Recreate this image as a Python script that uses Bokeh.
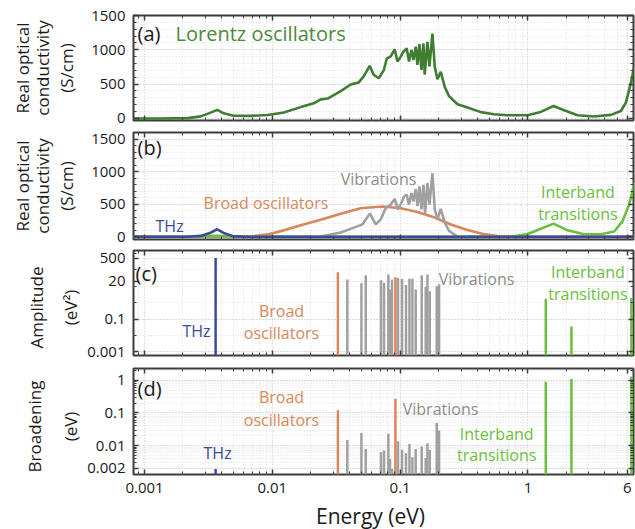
import math
from bokeh.plotting import figure
from bokeh.layouts import column, row
from bokeh.models import Range1d, FixedTicker, LinearAxis, LogAxis, Label, CustomJSTickFormatter
from bokeh.embed import file_html
from bokeh.resources import INLINE

# ---------------- data ----------------
# (a) total real optical conductivity (S/cm) vs energy (eV)
energy_total = [0.00082, 0.00133, 0.00217, 0.00275, 0.00329, 0.00371, 0.00416, 0.00498, 0.00676, 0.00919,
                0.0123, 0.0167, 0.0211, 0.0239, 0.0271, 0.0343, 0.0410, 0.0474, 0.0519, 0.0578,
                0.0621, 0.0680, 0.0744, 0.0786, 0.0844, 0.0907, 0.0953, 0.1011, 0.1061, 0.1126,
                0.1174, 0.1226, 0.1271, 0.1325, 0.1366, 0.1416, 0.1468, 0.1522, 0.1558, 0.1636,
                0.1696, 0.1790, 0.1866, 0.1959, 0.2080, 0.2234, 0.2415, 0.2810, 0.3365, 0.4279,
                0.5408, 0.6922, 0.9929, 1.262, 1.587, 1.920, 2.445, 3.299, 4.460, 5.341,
                5.844, 6.394, 6.785]
sigma_total = [0, 0, 5, 30, 85, 125, 75, 40, 37, 50,
               86, 165, 220, 278, 290, 397, 494, 525, 613, 767,
               637, 585, 700, 870, 905, 1007, 829, 901, 973, 1022,
               829, 997, 853, 1045, 781, 1083, 709, 1093, 637, 1117,
               760, 1237, 757, 570, 680, 460, 325, 206, 160, 92,
               60, 47, 47, 95, 181, 119, 47, 29, 52, 109,
               230, 518, 757]

# (b) components
energy_thz = [0.00082, 0.00217, 0.00275, 0.00329, 0.00371, 0.00416, 0.00498, 0.00676, 6.785]
sigma_thz = [0, 2, 15, 65, 117, 60, 8, 0, 0]

energy_broad = [0.00082, 0.00498, 0.00676, 0.00919, 0.0123, 0.0167, 0.0239, 0.0343, 0.0491, 0.0727,
                0.1011, 0.1366, 0.184, 0.249, 0.3365, 0.454, 0.614, 0.829, 6.785]
sigma_broad = [0, 0, 5, 38, 100, 180, 262, 355, 440, 465,
               440, 380, 300, 190, 105, 42, 6, 0, 0]

energy_vib = [0.00082, 0.0167, 0.0239, 0.0343, 0.0435, 0.0507, 0.0581, 0.0644, 0.0705, 0.0772,
              0.0844, 0.0907, 0.0963, 0.1024, 0.1073, 0.1126, 0.1174, 0.1226, 0.1271, 0.1325,
              0.1366, 0.1416, 0.1468, 0.1522, 0.1567, 0.1636, 0.1696, 0.1790, 0.1866, 0.1959,
              0.2080, 0.2234, 0.2415, 0.2810, 0.3573, 6.785]
sigma_vib = [0, 0, 6, 67, 142, 192, 359, 192, 268, 445,
             495, 582, 420, 521, 621, 647, 495, 673, 545, 733,
             470, 773, 420, 798, 344, 824, 495, 976, 420, 268,
             430, 218, 91, 6, 0, 0]

energy_inter = [0.00082, 0.00217, 0.00275, 0.00329, 0.00371, 0.00416, 0.00498, 0.00676, 0.578, 0.80,
                0.993, 1.118, 1.587, 2.042, 2.754, 3.722, 4.733, 5.506, 6.205, 6.785]
sigma_inter = [0, 2, 8, 15, 18, 14, 5, 0, 0, 12,
               45, 82, 203, 101, 41, 41, 82, 242, 495, 824]

# (c)/(d) oscillator parameters
thz_energy = [0.0036]
thz_amp = [520]
thz_gamma = [0.0019]

broad_energy = [0.0326, 0.0919]
broad_amp = [71, 35]
broad_gamma = [0.12, 0.27]

vib_energy = [0.0386, 0.0498, 0.0538, 0.0708, 0.0748, 0.0809, 0.0834, 0.0864, 0.0963, 0.1035,
              0.1112, 0.1183, 0.1248, 0.1324, 0.1476, 0.1586, 0.1636, 0.1706, 0.1934, 0.2017]
vib_amp = [26, 15, 47, 23, 16, 51, 6.3, 26, 32, 28,
           12, 28, 28, 6.3, 47, 9.1, 51, 5, 10, 13]
vib_gamma = [0.0149, 0.0245, 0.0079, 0.0062, 0.0071, 0.023, 0.0039, 0.0019, 0.0136, 0.0075,
             0.0058, 0.0112, 0.0044, 0.0079, 0.0093, 0.0042, 0.0118, 0.0074, 0.049, 0.029]

inter_energy = [1.38, 2.19, 6.45]
inter_amp = [1.7, 0.035, 1.9]
inter_gamma = [0.9, 1.1, 1.3]

# ticks
x_major = [0.001, 0.01, 0.1, 1, 6]
x_minor = [0.0009] + [k * 1e-3 for k in range(2, 10)] + [k * 1e-2 for k in range(2, 10)] + \
          [k * 1e-1 for k in range(2, 10)] + [2, 3, 4, 5]
lin_major = [0, 500, 1000, 1500]
lin_minor = list(range(0, 1601, 100))
amp_major = [0.001, 0.1, 20, 500]
amp_minor = [1e-3, 1e-2, 1e-1, 1, 10, 100, 1000]
gam_major = [0.002, 0.01, 0.1, 1]
gam_minor = [k * 1e-3 for k in range(2, 10)] + [k * 1e-2 for k in range(1, 10)] + \
            [k * 1e-1 for k in range(1, 10)] + [1, 2]

# ---------------- style ----------------
FONT = "Open Sans"
FRAME = "#3c3c3c"
TXT = "#1a1a1a"
C_TOTAL = "#3f7d32"
C_TOTAL_TXT = "#4b8b3b"
C_THZ = "#3b4a9b"
C_BROAD = "#d8875a"
C_VIB = "#a0a0a0"
C_VIB_TXT = "#8c8c8c"
C_INTER = "#6bbf3d"

LABEL_W = 84
PANEL_W = 635 - LABEL_W
STACK_H = 501
XSTRIP_H = 28

x_range = Range1d(0.00082, 6.7)
blank = CustomJSTickFormatter(code="return '';")
numfmt = CustomJSTickFormatter(code="return String(tick);")


def style_axis(ax, show):
    ax.axis_line_color = None
    ax.major_tick_in = 5
    ax.major_tick_out = 0
    ax.minor_tick_in = 3
    ax.minor_tick_out = 0
    ax.major_tick_line_color = FRAME
    ax.minor_tick_line_color = FRAME
    ax.major_tick_line_width = 1.5
    ax.minor_tick_line_width = 1
    if show:
        ax.formatter = numfmt
        ax.major_label_text_font = FONT
        ax.major_label_text_font_size = "15px"
        ax.major_label_text_color = TXT
        ax.major_label_standoff = 8
    else:
        ax.formatter = blank
        ax.major_label_text_font_size = "1px"
        ax.major_label_standoff = 0


def make_fig(h, btop, bbot, yr, ylog, yt, ym, xlabels):
    p = figure(width=PANEL_W, height=h, x_range=x_range, y_range=yr, x_axis_type="log",
               y_axis_type="log" if ylog else "linear", output_backend="svg",
               toolbar_location=None, min_border_left=133 - LABEL_W, min_border_right=2,
               min_border_top=btop, min_border_bottom=bbot)
    p.outline_line_color = FRAME
    p.outline_line_width = 2
    xt = FixedTicker(ticks=x_major, minor_ticks=x_minor)
    ytk = FixedTicker(ticks=yt, minor_ticks=ym)
    p.xaxis[0].ticker = xt
    p.yaxis[0].ticker = ytk
    style_axis(p.xaxis[0], xlabels)
    style_axis(p.yaxis[0], True)
    top = LogAxis(ticker=xt)
    right = LogAxis(ticker=ytk) if ylog else LinearAxis(ticker=ytk)
    style_axis(top, False)
    style_axis(right, False)
    p.add_layout(top, "above")
    p.add_layout(right, "right")
    for g in (p.xgrid[0], p.ygrid[0]):
        g.grid_line_color = "#c4c4c4"
        g.grid_line_dash = "1 2"
        g.grid_line_width = 1
        g.minor_grid_line_color = "#dedede"
        g.minor_grid_line_dash = "1 2"
        g.minor_grid_line_width = 1
    p.xgrid[0].ticker = xt
    p.ygrid[0].ticker = ytk
    return p


def text(p, s, x, y, color, size="16px", align="left", xu="data", yu="screen", angle=0.0):
    p.add_layout(Label(x=x, y=y, x_units=xu, y_units=yu, text=s, text_font=FONT,
                       text_font_size=size, text_color=color, text_align=align,
                       text_baseline="middle", angle=angle))


def strip_fig(w, h):
    f = figure(width=w, height=h, x_range=Range1d(0, w), y_range=Range1d(0, h),
               x_axis_location=None, y_axis_location=None, output_backend="svg",
               toolbar_location=None, min_border=0, title=None)
    f.outline_line_color = None
    f.grid.visible = False
    return f


# ---------------- panel (a) ----------------
pa = make_fig(128, 15, 8, Range1d(-30, 1500), False, lin_major, lin_minor, False)
pa.line(energy_total, sigma_total, line_color=C_TOTAL, line_width=2.6)
text(pa, "(a)", 4, 87, TXT, size="20px", xu="screen")
text(pa, "Lorentz oscillators", 0.00175, 87, C_TOTAL_TXT, size="20px")

# ---------------- panel (b) ----------------
pb = make_fig(119, 4, 8, Range1d(-40, 1600), False, lin_major, lin_minor, False)
pb.line(energy_broad, sigma_broad, line_color=C_BROAD, line_width=2.6)
pb.line(energy_vib, sigma_vib, line_color=C_VIB, line_width=2.6)
pb.line(energy_inter, sigma_inter, line_color=C_INTER, line_width=2.6)
pb.line(energy_thz, sigma_thz, line_color=C_THZ, line_width=2.6)
text(pb, "(b)", 4, 92, TXT, size="20px", xu="screen")
text(pb, "THz", 0.00122, 14, C_THZ)
text(pb, "Broad oscillators", 0.0029, 37, C_BROAD)
text(pb, "Vibrations", 0.0343, 61, C_VIB_TXT)
text(pb, "Interband", 2.46, 48, C_INTER, align="center")
text(pb, "transitions", 2.46, 26, C_INTER, align="center")

# ---------------- panel (c) ----------------
c_floor = 0.0006
pc = make_fig(115, 3, 7, Range1d(c_floor, 1500), True, amp_major, amp_minor, False)
pc.segment(vib_energy, [c_floor] * len(vib_energy), vib_energy, vib_amp, line_color=C_VIB, line_width=2.5)
pc.segment(broad_energy, [c_floor] * len(broad_energy), broad_energy, broad_amp, line_color=C_BROAD, line_width=2.5)
pc.segment(thz_energy, [c_floor] * len(thz_energy), thz_energy, thz_amp, line_color=C_THZ, line_width=2.5)
pc.segment(inter_energy, [c_floor] * len(inter_energy), inter_energy, inter_amp, line_color=C_INTER, line_width=2.5)
text(pc, "(c)", 2, 82, TXT, size="20px", xu="screen")
text(pc, "THz", 0.00198, 25, C_THZ)
text(pc, "Broad", 0.0118, 45, C_BROAD, align="center")
text(pc, "oscillators", 0.0118, 23, C_BROAD, align="center")
text(pc, "Vibrations", 0.2005, 77, C_VIB_TXT)
text(pc, "Interband", 2.95, 84, C_INTER, align="center")
text(pc, "transitions", 2.95, 62, C_INTER, align="center")

# ---------------- panel (d) ----------------
d_floor = 0.0013
pd_ = make_fig(139, 6, 27, Range1d(d_floor, 2.3), True, gam_major, gam_minor, True)
pd_.segment(vib_energy, [d_floor] * len(vib_energy), vib_energy, vib_gamma, line_color=C_VIB, line_width=2.5)
pd_.segment(broad_energy, [d_floor] * len(broad_energy), broad_energy, broad_gamma, line_color=C_BROAD, line_width=2.5)
pd_.segment(thz_energy, [d_floor] * len(thz_energy), thz_energy, thz_gamma, line_color=C_THZ, line_width=2.5)
pd_.segment(inter_energy, [d_floor] * len(inter_energy), inter_energy, inter_gamma, line_color=C_INTER, line_width=2.5)
pd_.xaxis[0].major_label_standoff = 6
text(pd_, "(d)", 4, 86, TXT, size="20px", xu="screen")
text(pd_, "Broad", 0.0118, 78, C_BROAD, align="center")
text(pd_, "oscillators", 0.0118, 55, C_BROAD, align="center")
text(pd_, "THz", 0.00373, 22, C_THZ, align="center")
text(pd_, "Vibrations", 0.1048, 66, C_VIB_TXT)
text(pd_, "Interband", 0.570, 41, C_INTER, align="center")
text(pd_, "transitions", 0.570, 20, C_INTER, align="center")

# ---------------- y-axis titles (one tall strip on the left) ----------------
ytitles = strip_fig(LABEL_W, STACK_H)
title_specs = [
    ("Real optical", 22, 433.5), ("conductivity", 42, 433.5), ("(S/cm)", 66, 433.5),
    ("Real optical", 22, 315.5), ("conductivity", 42, 315.5), ("(S/cm)", 66, 315.5),
    ("Amplitude", 36, 194), ("(eV²)", 70, 194),
    ("Broadening", 34, 75), ("(eV)", 70, 75),
]
for s, xx, yy in title_specs:
    ytitles.add_layout(Label(x=xx, y=yy, x_units="screen", y_units="screen", text=s, text_font=FONT,
                             text_font_size="17px", text_color=TXT, text_align="center",
                             text_baseline="middle", angle=math.pi / 2))

# ---------------- x-axis title strip ----------------
xs = strip_fig(635, XSTRIP_H)
xs.add_layout(Label(x=370, y=14, x_units="screen", y_units="screen", text="Energy (eV)",
                    text_font=FONT, text_font_size="21px", text_color=TXT,
                    text_align="center", text_baseline="middle"))

layout = column(row(ytitles, column(pa, pb, pc, pd_)), xs)
open("out.html", "w").write(file_html(layout, INLINE))
